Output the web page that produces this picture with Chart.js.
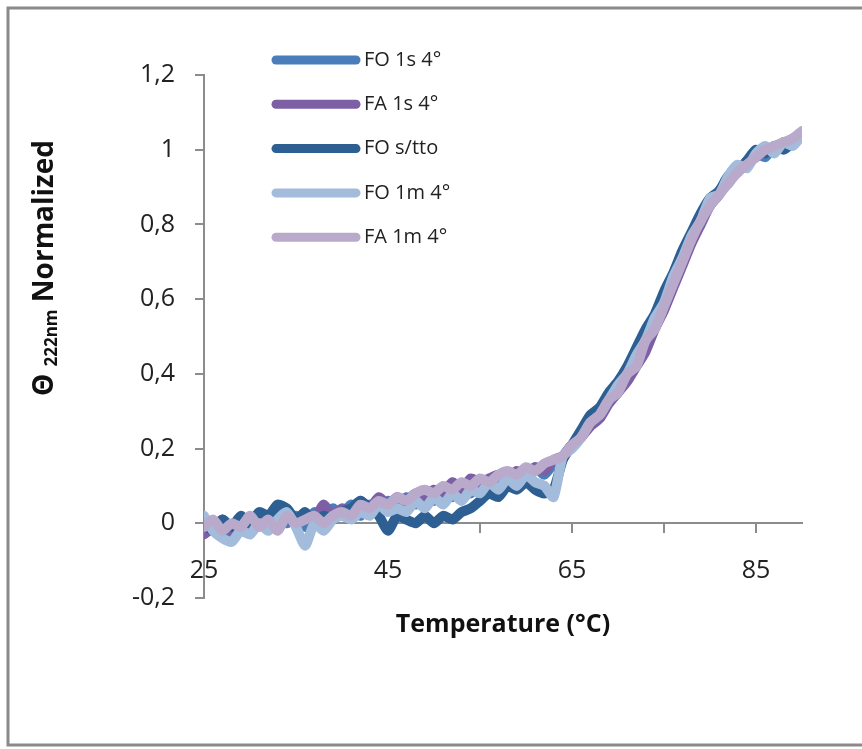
<!DOCTYPE html>
<html>
<head>
<meta charset="utf-8">
<script src="https://cdn.jsdelivr.net/npm/chart.js@4.4.0/dist/chart.umd.min.js"></script>
<style>
  html, body { margin: 0; padding: 0; background: #fff; }
  #wrap { width: 862px; height: 749px; }
</style>
</head>
<body>
<div id="wrap"><canvas id="myChart" width="862" height="749"></canvas></div>
<script>
// temperature (°C) of every reading
const temperatures = [25, 26, 27, 28, 29, 30, 31, 32, 33, 34, 35, 36, 37, 38, 39, 40, 41, 42, 43, 44,
  45, 46, 47, 48, 49, 50, 51, 52, 53, 54, 55, 56, 57, 58, 59, 60, 61, 62, 63, 64,
  65, 66, 67, 68, 69, 70, 71, 72, 73, 74, 75, 76, 77, 78, 79, 80, 81, 82, 83, 84,
  85, 86, 87, 88, 89, 90];

// normalized ellipticity at 222nm, one array per sample
const foOneSec4 = [0.01, -0.02, 0.00, -0.03, 0.01, -0.01, 0.02, -0.01, 0.03, 0.00,
  0.02, -0.01, 0.03, 0.01, 0.04, 0.02, 0.05, 0.02, 0.05, 0.03,
  0.06, 0.04, 0.07, 0.05, 0.08, 0.06, 0.09, 0.07, 0.10, 0.08,
  0.11, 0.09, 0.12, 0.11, 0.13, 0.12, 0.15, 0.13, 0.16, 0.18,
  0.21, 0.23, 0.27, 0.29, 0.33, 0.35, 0.40, 0.43, 0.49, 0.53,
  0.59, 0.64, 0.71, 0.76, 0.82, 0.85, 0.89, 0.91, 0.95, 0.96,
  0.99, 0.98, 1.01, 1.01, 1.03, 1.04];
const faOneSec4 = [-0.03, -0.01, 0.01, -0.02, 0.00, -0.01, 0.01, 0.00, 0.02, 0.01,
  0.00, 0.02, 0.01, 0.05, 0.02, 0.04, 0.03, 0.06, 0.04, 0.07,
  0.05, 0.07, 0.06, 0.08, 0.07, 0.09, 0.08, 0.11, 0.09, 0.12,
  0.11, 0.12, 0.13, 0.12, 0.14, 0.13, 0.15, 0.14, 0.17, 0.18,
  0.21, 0.23, 0.26, 0.28, 0.32, 0.35, 0.38, 0.42, 0.46, 0.52,
  0.57, 0.63, 0.69, 0.75, 0.80, 0.85, 0.88, 0.92, 0.94, 0.97,
  0.98, 1.00, 1.00, 1.02, 1.02, 1.04];
const foNoTreatment = [0.00, -0.02, 0.01, -0.01, 0.02, 0.00, 0.03, 0.02, 0.05, 0.04,
  0.01, 0.03, 0.00, 0.02, 0.01, 0.03, 0.04, 0.06, 0.04, 0.02,
  -0.02, 0.02, 0.01, 0.00, 0.02, 0.00, 0.02, 0.01, 0.03, 0.04,
  0.06, 0.08, 0.07, 0.10, 0.09, 0.11, 0.09, 0.08, 0.09, 0.17,
  0.21, 0.25, 0.29, 0.31, 0.35, 0.38, 0.42, 0.47, 0.52, 0.56,
  0.62, 0.67, 0.73, 0.78, 0.83, 0.87, 0.89, 0.93, 0.94, 0.97,
  1.00, 0.99, 1.01, 1.00, 1.02, 1.04];
const foOneMin4 = [0.02, -0.02, -0.04, -0.05, -0.02, -0.03, 0.00, -0.02, 0.01, 0.03,
  -0.01, -0.06, 0.00, -0.02, 0.01, 0.02, 0.01, 0.03, 0.02, 0.05,
  0.03, 0.04, 0.03, 0.06, 0.04, 0.07, 0.05, 0.08, 0.06, 0.09,
  0.08, 0.11, 0.09, 0.12, 0.10, 0.13, 0.11, 0.10, 0.07, 0.18,
  0.20, 0.23, 0.27, 0.29, 0.33, 0.37, 0.40, 0.45, 0.49, 0.55,
  0.59, 0.66, 0.71, 0.77, 0.81, 0.87, 0.88, 0.93, 0.96, 0.95,
  0.99, 1.01, 0.99, 1.02, 1.01, 1.04];
const faOneMin4 = [-0.01, 0.01, -0.02, 0.00, -0.01, 0.02, -0.01, 0.01, -0.02, 0.02,
  0.00, 0.01, 0.02, 0.00, 0.02, 0.03, 0.02, 0.05, 0.04, 0.06,
  0.05, 0.07, 0.06, 0.08, 0.09, 0.08, 0.10, 0.09, 0.11, 0.10,
  0.12, 0.11, 0.13, 0.14, 0.13, 0.15, 0.14, 0.16, 0.17, 0.18,
  0.21, 0.23, 0.27, 0.29, 0.33, 0.35, 0.40, 0.42, 0.49, 0.52,
  0.58, 0.64, 0.70, 0.76, 0.81, 0.85, 0.88, 0.91, 0.94, 0.96,
  0.98, 1.00, 1.01, 1.02, 1.03, 1.05];

const seriesNames = ["FO 1s 4°", "FA 1s 4°", "FO s/tto", "FO 1m 4°", "FA 1m 4°"];
const seriesValues = [foOneSec4, faOneSec4, foNoTreatment, foOneMin4, faOneMin4];
const seriesColors = ["#4a7ebb", "#7d5fa6", "#2d5f93", "#a3bcdc", "#b9aacb"];

const xTickValues = [25, 35, 45, 55, 65, 75, 85];
const xTickLabels = ["25", "", "45", "", "65", "", "85"];
const yTickValues = [-0.2, 0, 0.2, 0.4, 0.6, 0.8, 1, 1.2];

const axisGrey = "#8c8c8c";
const textColor = "#222";

// frame, axis titles and legend are drawn by hand (subscript in the y title)
const decorPlugin = {
  id: "decor",
  afterDraw(chart) {
    const ctx = chart.ctx;
    const area = chart.chartArea;
    ctx.save();

    // outer frame
    ctx.strokeStyle = "#8a8a8a";
    ctx.lineWidth = 3;
    ctx.strokeRect(8, 8, 880, 737);

    // y title: Θ 222nm Normalized
    ctx.translate(53, 268);
    ctx.rotate(-Math.PI / 2);
    ctx.fillStyle = "#111";
    ctx.textBaseline = "alphabetic";
    ctx.textAlign = "left";
    ctx.font = 'bold 28px "Open Sans"';
    const wTheta = ctx.measureText("Θ").width;
    const wSpace = ctx.measureText(" ").width;
    const wNorm = ctx.measureText("Normalized").width;
    ctx.font = 'bold 17px "Open Sans"';
    const wSub = ctx.measureText("222nm").width;
    let x = -(wTheta + wSpace + wSub + wSpace + wNorm) / 2;
    ctx.font = 'bold 28px "Open Sans"';
    ctx.fillText("Θ", x, 0);
    x += wTheta + wSpace;
    ctx.font = 'bold 17px "Open Sans"';
    ctx.fillText("222nm", x, 4);
    x += wSub + wSpace;
    ctx.font = 'bold 28px "Open Sans"';
    ctx.fillText("Normalized", x, 0);
    ctx.setTransform(1, 0, 0, 1, 0, 0);

    // x title
    ctx.font = 'bold 25px "Open Sans"';
    ctx.textAlign = "center";
    ctx.textBaseline = "middle";
    ctx.fillText("Temperature (°C)", (area.left + area.right) / 2, 625);

    // legend
    ctx.font = '20px "Open Sans"';
    ctx.textAlign = "left";
    ctx.lineCap = "round";
    chart.data.datasets.forEach((ds, i) => {
      const y = 60 + i * 44.3;
      ctx.strokeStyle = ds.borderColor;
      ctx.lineWidth = 9;
      ctx.beginPath();
      ctx.moveTo(276, y);
      ctx.lineTo(356, y);
      ctx.stroke();
      ctx.fillStyle = textColor;
      ctx.fillText(ds.label, 364, y);
    });
    ctx.restore();
  },
};

new Chart(document.getElementById("myChart"), {
  type: "line",
  data: {
    datasets: seriesNames.map((name, i) => ({
      label: name,
      data: temperatures.map((t, j) => ({ x: t, y: seriesValues[i][j] })),
      borderColor: seriesColors[i],
      backgroundColor: seriesColors[i],
      borderWidth: 10,
      borderCapStyle: "round",
      borderJoinStyle: "round",
      pointRadius: 0,
      tension: 0.2,
      order: seriesNames.length - i, // last series on top, like Excel
    })),
  },
  options: {
    responsive: false,
    animation: false,
    devicePixelRatio: 1,
    layout: {
      padding: { left: 0, top: 75, right: 60, bottom: 151 },
    },
    scales: {
      x: {
        type: "linear",
        min: 25,
        max: 90,
        position: { y: 0 },
        afterBuildTicks: (scale) => {
          scale.ticks = xTickValues.map((v) => ({ value: v }));
        },
        ticks: {
          autoSkip: false,
          maxRotation: 0,
          padding: 24,
          color: textColor,
          font: { family: "Open Sans", size: 25 },
          callback: (value, index) => xTickLabels[index],
        },
        grid: {
          drawOnChartArea: false,
          drawTicks: true,
          tickLength: 9,
          color: axisGrey,
          lineWidth: 2,
        },
        border: { color: axisGrey, width: 2 },
      },
      y: {
        type: "linear",
        min: -0.2,
        max: 1.2,
        afterBuildTicks: (scale) => {
          scale.ticks = yTickValues.map((v) => ({ value: v }));
        },
        afterFit: (scale) => {
          scale.width = 204;
        },
        ticks: {
          padding: 20,
          color: textColor,
          font: { family: "Open Sans", size: 25 },
          callback: (value) => String(Math.round(value * 10) / 10).replace(".", ","),
        },
        grid: {
          drawOnChartArea: false,
          drawTicks: true,
          tickLength: 9,
          color: axisGrey,
          lineWidth: 2,
        },
        border: { color: axisGrey, width: 2 },
      },
    },
    plugins: {
      legend: { display: false },
      tooltip: { enabled: false },
    },
  },
  plugins: [decorPlugin],
});
</script>
</body>
</html>
